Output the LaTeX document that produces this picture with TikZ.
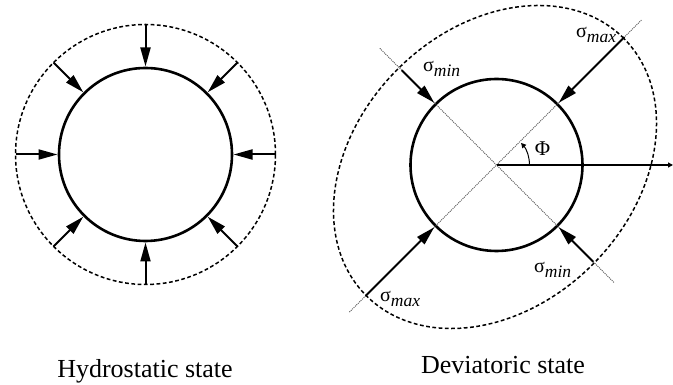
\documentclass[tikz,border=0pt]{standalone}
\usepackage{fontspec}
\setmainfont{Liberation Serif}
\usetikzlibrary{arrows.meta}
\newcommand\sigmalbl[1]{σ\raisebox{-5pt}{\fontsize{17.5}{17.5}\selectfont\itshape #1}}
\begin{document}
\begin{tikzpicture}[x=1pt,y=1pt,
  solidring/.style={line width=2.6pt},
  dashring/.style={line width=1.5pt, dash pattern=on 3.8pt off 2.5pt},
  push/.style={line width=2pt, -{Triangle[length=19pt,width=10pt]}},
  axisline/.style={line width=0.8pt, gray!60!black, dash pattern=on 1pt off 1pt},
  lbl/.style={inner sep=0pt, anchor=base west, font=\fontsize{20}{20}\selectfont},
  caption/.style={inner sep=0pt, anchor=base, font=\fontsize{26}{30}\selectfont}]
\useasboundingbox (0,0) rectangle (673,385);
% ---------- hydrostatic ----------
\coordinate (H) at (145.5,230.5);
\draw[solidring] (H) circle[radius=86.5];
\draw[dashring] (H) circle[radius=130];
\foreach \a in {0,45,...,315} {
  \path (H) ++(\a:130) coordinate (hs\a);
  \path (H) ++(\a:88) coordinate (ht\a);
  \draw[push] (hs\a) -- (ht\a);
}
\node[caption] (hcap) at (145,7) {Hydrostatic state};
% ---------- deviatoric ----------
\coordinate (D) at (496.5,220);
\draw[solidring] (D) circle[radius=86];
\draw[dashring, rotate around={45:(495,218)}] (495,218) ellipse[x radius=182, y radius=138];
\path (D) ++(45:205) coordinate (a1);
\path (D) ++(225:208) coordinate (a2);
\path (D) ++(135:165) coordinate (b1);
\path (D) ++(315:166) coordinate (b2);
\draw[axisline] (a2) -- (a1);
\draw[axisline] (b1) -- (b2);
\path (D) ++(45:181) coordinate (s1);
\path (D) ++(225:185) coordinate (s2);
\path (D) ++(135:134) coordinate (s3);
\path (D) ++(315:137) coordinate (s4);
\path (D) ++(45:88) coordinate (t1);
\path (D) ++(225:88) coordinate (t2);
\path (D) ++(135:88) coordinate (t3);
\path (D) ++(315:88) coordinate (t4);
\draw[push] (s1) -- (t1);
\draw[push] (s2) -- (t2);
\draw[push] (s3) -- (t3);
\draw[push] (s4) -- (t4);
\coordinate (xe) at (673,220);
\draw[line width=1.4pt, -{Triangle[length=5pt,width=5pt]}] (D) -- (xe);
\path (D) ++(0:33) coordinate (arcstart);
\draw[line width=1pt, -{Triangle[length=5pt,width=5pt]}] (arcstart) arc[start angle=0, end angle=42, radius=33];
\node[inner sep=0pt, font=\fontsize{21}{21}\selectfont] (phi) at (542.5,236) {Φ};
\node[lbl] (smaxur) at (576,347) {\sigmalbl{max}};
\node[lbl] (sminul) at (423,313.3) {\sigmalbl{min}};
\node[lbl] (smaxll) at (380,83.3) {\sigmalbl{max}};
\node[lbl] (sminlr) at (534,112.3) {\sigmalbl{min}};
\node[caption] (dcap) at (503,11.7) {Deviatoric state};
\end{tikzpicture}
\end{document}
